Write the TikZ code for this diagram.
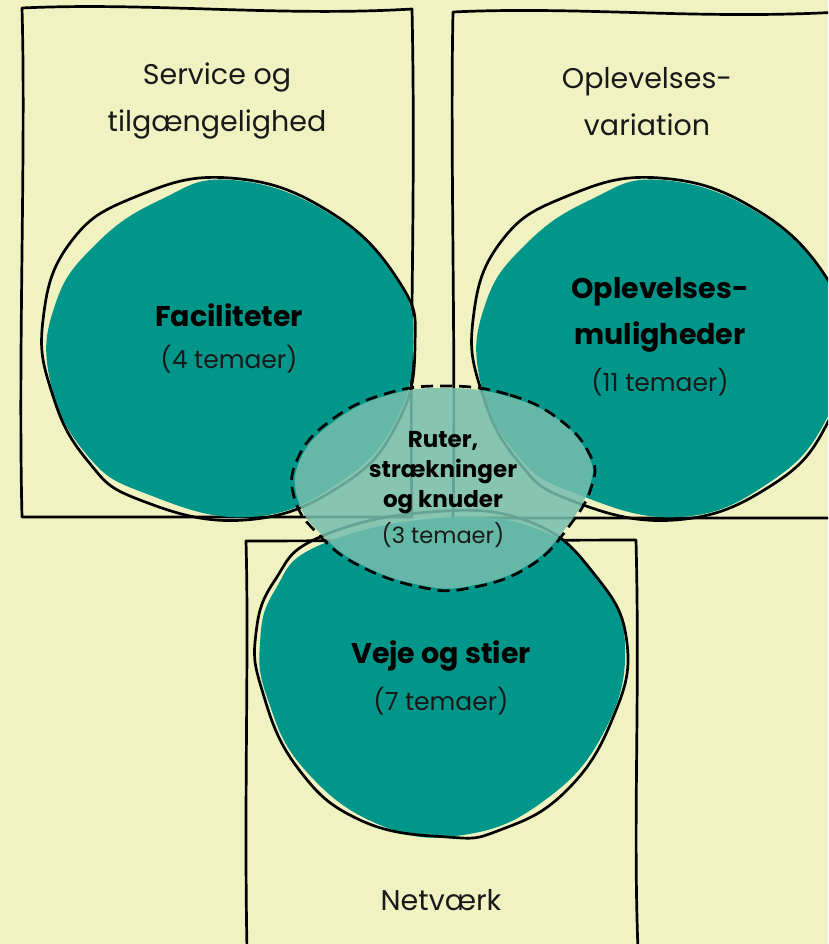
\documentclass[tikz,border=0pt]{standalone}
\usepackage{fontspec}
\setmainfont{Poppins}
\definecolor{bgyellow}{RGB}{240,243,193}
\definecolor{tealfill}{RGB}{0,150,138}
\definecolor{midfill}{RGB}{118,190,174}
\definecolor{txt}{RGB}{25,25,25}
\begin{document}
\begin{tikzpicture}[x=1pt,y=-1pt,
  frame/.style={draw=black,line width=2.7pt,line join=round},
  blobfill/.style={fill=tealfill},
  blobline/.style={draw=black,line width=2.7pt},
  midblob/.style={fill=midfill,fill opacity=0.86},
  midline/.style={draw=black,line width=2.7pt,dash pattern=on 12pt off 7pt},
  cattext/.style={font=\fontsize{28.5}{47}\selectfont,text=txt,align=center,inner sep=0pt},
  titletext/.style={font=\fontsize{28.5}{46}\selectfont\bfseries,text=black,align=center,inner sep=0pt},
  counttext/.style={font=\fontsize{25}{30}\selectfont,text=txt,inner sep=0pt},
  midtitle/.style={font=\fontsize{23}{30}\selectfont\bfseries,text=black,align=center,inner sep=0pt},
  midcount/.style={font=\fontsize{22.5}{30}\selectfont,text=txt,inner sep=0pt}]
\useasboundingbox (0,0) rectangle (828,944);
\fill[bgyellow] (0,0) rectangle (828,944);
\begin{scope}
\clip (0,0) rectangle (828,944);
% frames
\draw[frame] (22,8) .. controls (150,2) and (280,17) .. (412,9)
  .. controls (416,200) and (409,350) .. (412,517) -- (22,517)
  .. controls (18,350) and (26,150) .. (22,8) -- cycle;
\draw[frame] (453,12) .. controls (580,6) and (700,20) .. (840,12)
  -- (840,518) -- (453,518) .. controls (456,350) and (450,150) .. (453,12) -- cycle;
\draw[frame] (247,950) .. controls (244,800) and (249,650) .. (246,541)
  -- (636,540) .. controls (640,700) and (633,820) .. (638,950);
% left blob
\fill[blobfill] plot[smooth cycle,tension=0.75] coordinates {(232,180) (330,214) (398,282) (413,345) (396,420) (340,482) (250,517) (147,494) (87,455) (50,380) (55,305) (95,245) (160,200)};
\draw[blobline] plot[smooth cycle,tension=0.75] coordinates {(230,178) (330,212) (400,283) (415,345) (398,422) (342,485) (245,520) (140,500) (87,460) (52,393) (43,320) (70,243) (135,197)};
% right blob
\begin{scope}[xshift=430pt]
\fill[blobfill] plot[smooth cycle,tension=0.75] coordinates {(232,180) (330,214) (398,282) (413,345) (396,420) (340,482) (250,517) (147,494) (87,455) (50,380) (55,305) (95,245) (160,200)};
\draw[blobline] plot[smooth cycle,tension=0.75] coordinates {(230,178) (330,212) (400,283) (415,345) (398,422) (342,485) (245,520) (140,500) (87,460) (52,393) (43,320) (70,243) (135,197)};
\end{scope}
% bottom blob
\fill[blobfill] plot[smooth cycle,tension=0.75] coordinates {(440,518) (540,530) (600,580) (625,645) (605,730) (545,800) (463,835) (380,825) (305,770) (268,700) (260,643) (275,590) (320,545)};
\draw[blobline] plot[smooth cycle,tension=0.75] coordinates {(430,512) (530,522) (595,575) (627,643) (612,720) (565,792) (500,830) (447,837) (360,820) (297,767) (262,690) (256,633) (275,580) (320,537)};
% middle blob
\fill[midblob] plot[smooth cycle,tension=0.75] coordinates {(447,388) (510,397) (560,421) (588,455) (590,485) (568,525) (528,565) (470,586) (420,585) (362,565) (322,535) (298,500) (300,460) (332,423) (385,396)};
\draw[midline] plot[smooth cycle,tension=0.75] coordinates {(447,386) (510,395) (560,420) (590,455) (592,485) (570,525) (530,566) (470,588) (420,587) (360,566) (320,536) (295,500) (297,460) (330,421) (385,394)};
\end{scope}
% texts
\node[cattext] (svc) at (217,101) {Service og\\tilgængelighed};
\node[cattext] (opv) at (647,102) {Oplevelses-\\variation};
\node[cattext] (net) at (441,900) {Netværk};
\node[titletext] (fac) at (229,315) {Faciliteter};
\node[counttext] (facn) at (229,359) {(4 temaer)};
\node[titletext] (opm) at (660,315) {Oplevelses-\\muligheder};
\node[counttext] (opmn) at (660,382) {(11 temaer)};
\node[titletext] (vej) at (441,656) {Veje og stier};
\node[counttext] (vejn) at (441,701) {(7 temaer)};
\node[midtitle] (rut) at (443,473) {Ruter,\\strækninger\\og knuder};
\node[midcount] (rutn) at (443,535) {(3 temaer)};
\end{tikzpicture}
\end{document}
